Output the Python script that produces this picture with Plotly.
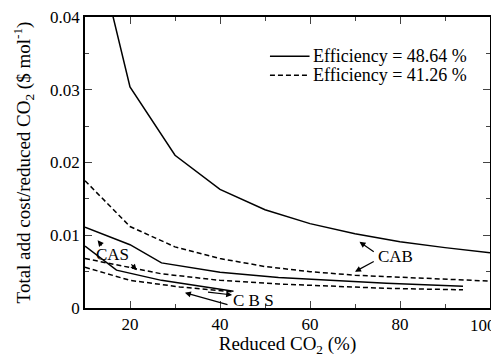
import plotly.graph_objects as go

# --- data ---
cab_x_a = [10, 20, 30, 40, 50, 60, 70, 80, 90, 100]
cab_y_a = [0.056, 0.0304, 0.0210, 0.0163, 0.0135, 0.0116, 0.0102, 0.0091, 0.0083, 0.0076]
cab_x_b = [10, 20, 30, 40, 50, 60, 70, 80, 90, 100]
cab_y_b = [0.0175, 0.0112, 0.0084, 0.0068, 0.0057, 0.0050, 0.0045, 0.0042, 0.0039, 0.0037]

cas_x_a = [10, 20, 27, 40, 53, 77, 94]
cas_y_a = [0.0111, 0.0087, 0.0062, 0.0049, 0.0042, 0.0034, 0.0030]
cas_x_b = [10, 20, 27, 40, 53, 77, 94]
cas_y_b = [0.0068, 0.0056, 0.0047, 0.0038, 0.0033, 0.0027, 0.0025]

cbs_x_a = [10, 17, 27, 43]
cbs_y_a = [0.0085, 0.0052, 0.0038, 0.0023]
cbs_x_b = [10, 20, 31, 43]
cbs_y_b = [0.0056, 0.0038, 0.0029, 0.0022]

x_tickvals = [20, 40, 60, 80, 100]
x_ticktext = ["20", "40", "60", "80", "100"]

legend_a = "Efficiency = 48.64 %"
legend_b = "Efficiency = 41.26 %"

FONT = "Liberation Serif, Times New Roman, serif"
DASH = "5px,3px"

fig = go.Figure()

series = [
    (cab_x_a, cab_y_a, "solid"),
    (cab_x_b, cab_y_b, DASH),
    (cas_x_a, cas_y_a, "solid"),
    (cas_x_b, cas_y_b, DASH),
    (cbs_x_a, cbs_y_a, "solid"),
    (cbs_x_b, cbs_y_b, DASH),
]
for xs, ys, dash in series:
    fig.add_trace(go.Scatter(
        x=xs, y=ys, mode="lines", showlegend=False, hoverinfo="skip",
        line=dict(color="black", width=1.5, dash=dash),
    ))

anns = []
labels = [
    ("CAB", 79.0, 0.0071),
    ("CAS", 16.0, 0.0073),
    ("C B S", 47.5, 0.0011),
]
for t, x, y in labels:
    anns.append(dict(x=x, y=y, xref="x", yref="y", text=t, showarrow=False,
                     font=dict(family=FONT, size=17, color="black")))
arrows = [
    (71.0, 0.0091, 74.5, 0.0076),
    (70.0, 0.0050, 74.5, 0.0065),
    (12.8, 0.0093, 14.0, 0.0084),
    (21.5, 0.0052, 20.0, 0.0062),
    (32.2, 0.0021, 42.0, 0.0004),
    (42.7, 0.0018, 37.0, 0.0022),
]
for x, y, ax, ay in arrows:
    anns.append(dict(x=x, y=y, xref="x", yref="y", ax=ax, ay=ay, axref="x", ayref="y",
                     text="", showarrow=True, arrowhead=2, arrowsize=1, arrowwidth=1.2,
                     arrowcolor="black"))

# last x tick label is drawn right-aligned so it stays inside the window
anns.append(dict(x=x_tickvals[-1], y=0, xref="x", yref="paper", text=x_ticktext[-1],
                 showarrow=False, xanchor="right", yanchor="middle", xshift=8, yshift=-17,
                 font=dict(family=FONT, size=17, color="black")))

# manual legend (tight row spacing as in the reference)
leg_rows = [(legend_a, "solid", 0.0346), (legend_b, DASH, 0.0320)]
shapes = []
for txt, dash, yy in leg_rows:
    shapes.append(dict(type="line", xref="x", yref="y", x0=51.1, x1=59.9, y0=yy, y1=yy,
                       line=dict(color="black", width=1.5, dash=dash)))
    anns.append(dict(x=60.3, y=yy, xref="x", yref="y", text=txt, showarrow=False,
                     xanchor="left", yanchor="middle",
                     font=dict(family=FONT, size=18, color="black")))

# page body has an 8px margin, so the figure is 8px smaller than the window
fig.update_layout(
    width=491, height=349,
    margin=dict(l=77, r=9, t=9, b=49),
    paper_bgcolor="white", plot_bgcolor="white",
    font=dict(family=FONT, size=17, color="black"),
    showlegend=False,
    annotations=anns,
    shapes=shapes,
)
fig.update_xaxes(
    range=[10, 100], tickvals=x_tickvals, ticktext=x_ticktext[:-1] + [""],
    ticks="inside", ticklen=7, tickwidth=1.2,
    minor=dict(dtick=10, tick0=0, ticks="inside", ticklen=4, tickwidth=1.2),
    showline=True, linecolor="black", linewidth=1.5, mirror="allticks",
    showgrid=False, zeroline=False, ticklabeloverflow="allow",
    tickfont=dict(family=FONT, size=17),
    title=dict(text="Reduced CO<sub>2</sub> (%)", font=dict(family=FONT, size=19), standoff=0),
    automargin=False,
)
fig.update_yaxes(
    range=[0, 0.04], tick0=0, dtick=0.01, ticks="inside", ticklen=7, tickwidth=1.2,
    minor=dict(dtick=0.005, ticks="inside", ticklen=4, tickwidth=1.2),
    showline=True, linecolor="black", linewidth=1.5, mirror="allticks",
    showgrid=False, zeroline=False, ticklabeloverflow="allow",
    tickfont=dict(family=FONT, size=17),
    title=dict(text="Total add cost/reduced CO<sub>2</sub> ($ mol<sup>-1</sup>)",
               font=dict(family=FONT, size=19), standoff=14),
    automargin=False,
)
fig.write_html("out.html")
